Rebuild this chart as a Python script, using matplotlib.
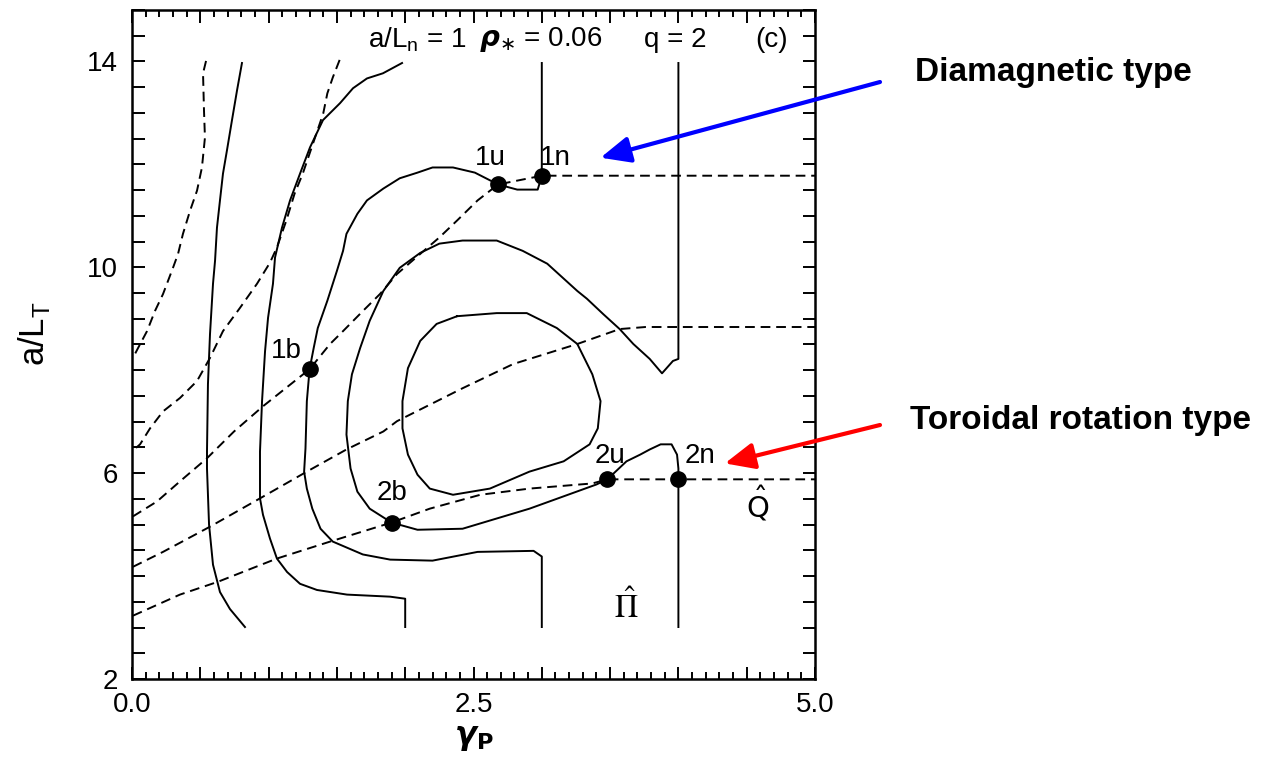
import matplotlib
matplotlib.use("Agg")
import matplotlib.pyplot as plt
from matplotlib.ticker import MultipleLocator, FuncFormatter

plt.rcParams['font.family'] = ['Liberation Sans', 'DejaVu Sans']

# ---------------- data ----------------
# solid contours
solidA_x = [0.805, 0.769, 0.732, 0.695, 0.666, 0.644, 0.622, 0.608, 0.593, 0.571, 0.556, 0.549, 0.549, 0.564, 0.593, 0.644, 0.717, 0.827]
solidA_y = [13.97, 13.44, 12.86, 12.27, 11.82, 11.30, 10.77, 10.13, 9.68, 8.70, 7.73, 6.42, 6.09, 5.00, 4.22, 3.69, 3.36, 3.01]

ln_x = [1.977, 1.837, 1.720, 1.618, 1.523, 1.398, 1.303, 1.230, 1.157, 1.098, 1.047, 1.032, 0.996, 0.974, 0.952, 0.937,
        0.937, 0.959, 1.010, 1.061, 1.135, 1.230, 1.354, 1.574, 1.889, 2.0, 2.0]
ln_y = [13.97, 13.77, 13.67, 13.48, 13.19, 12.86, 12.33, 11.82, 11.30, 10.77, 10.19, 9.68, 9.02, 8.37, 7.40, 6.42,
        5.51, 5.19, 4.73, 4.34, 4.08, 3.85, 3.73, 3.64, 3.60, 3.56, 3.01]

rho_x = [3.00, 3.00, 2.97, 2.82, 2.68, 2.51, 2.35, 2.20, 2.09, 1.96, 1.84, 1.72, 1.65, 1.57, 1.545, 1.50, 1.43, 1.36,
         1.33, 1.30, 1.28, 1.27, 1.26, 1.28, 1.32, 1.38, 1.47, 1.69, 1.89, 2.20, 2.53, 2.94, 3.00, 3.00]
rho_y = [13.97, 11.78, 11.51, 11.51, 11.61, 11.84, 11.94, 11.94, 11.84, 11.73, 11.53, 11.30, 11.04, 10.65, 10.32, 9.93,
         9.35, 8.82, 8.43, 8.02, 7.40, 6.48, 6.03, 5.70, 5.31, 4.92, 4.67, 4.42, 4.32, 4.30, 4.47, 4.49, 4.38, 3.01]

q_x = [4.00, 4.00, 3.96, 3.88, 3.79, 3.67, 3.57, 3.45, 3.33, 3.26, 3.04, 2.86, 2.67, 2.42, 2.25, 2.11, 1.96, 1.84,
       1.74, 1.67, 1.61, 1.58, 1.57, 1.60, 1.65, 1.74, 1.90, 2.09, 2.42, 2.91, 3.40, 3.48, 3.62, 3.72, 3.79, 3.87,
       3.95, 3.99, 4.00, 4.00, 4.00]
q_y = [13.97, 8.22, 8.18, 7.94, 8.22, 8.51, 8.80, 9.09, 9.39, 9.54, 10.07, 10.32, 10.52, 10.52, 10.46, 10.28, 9.99,
       9.54, 8.96, 8.43, 7.92, 7.40, 6.75, 6.09, 5.64, 5.31, 5.04, 4.90, 4.92, 5.31, 5.78, 5.88, 6.23, 6.36, 6.46,
       6.56, 6.56, 6.36, 6.09, 5.88, 3.01]

inner_x = [2.38, 2.67, 2.89, 3.11, 3.26, 3.37, 3.43, 3.41, 3.35, 3.16, 2.91, 2.62, 2.35, 2.18, 2.09, 2.02, 1.98, 1.98,
           2.02, 2.11, 2.23, 2.38]
inner_y = [9.05, 9.11, 9.11, 8.82, 8.51, 7.92, 7.40, 6.87, 6.56, 6.23, 6.03, 5.70, 5.58, 5.70, 5.97, 6.36, 6.87, 7.40,
           8.04, 8.57, 8.90, 9.05]

# dashed contours
dashA_x = [0.542, 0.520, 0.527, 0.534, 0.512, 0.476, 0.425, 0.373, 0.337, 0.300, 0.227, 0.168, 0.110, 0.044, 0.007]
dashA_y = [14.01, 13.77, 13.05, 12.52, 11.94, 11.49, 11.10, 10.65, 10.26, 9.99, 9.48, 9.15, 8.76, 8.43, 8.24]

dashB_x = [1.52, 1.47, 1.43, 1.40, 1.35, 1.30, 1.25, 1.19, 1.13, 1.06, 1.01, 0.915, 0.79, 0.666, 0.571, 0.476, 0.351,
           0.227, 0.132, 0.059, 0.007]
dashB_y = [14.03, 13.69, 13.38, 12.99, 12.60, 12.21, 11.82, 11.43, 10.91, 10.38, 10.09, 9.68, 9.21, 8.76, 8.24, 7.79,
           7.46, 7.20, 6.87, 6.56, 6.44]

dash1_x = [0.007, 0.183, 0.351, 0.549, 0.747, 0.959, 1.30, 1.45, 1.545, 1.69, 1.815, 1.94, 2.11, 2.25, 2.38, 2.53,
           2.68, 3.00, 5.00]
dash1_y = [5.16, 5.45, 5.84, 6.29, 6.81, 7.30, 8.02, 8.51, 8.76, 9.15, 9.48, 9.87, 10.26, 10.58, 10.91, 11.30,
           11.61, 11.78, 11.78]

dashM_x = [0.007, 0.227, 0.571, 0.937, 1.28, 1.57, 1.84, 1.94, 2.42, 2.79, 3.26, 3.57, 3.76, 5.00]
dashM_y = [4.18, 4.47, 4.96, 5.51, 6.03, 6.46, 6.81, 7.01, 7.65, 8.12, 8.51, 8.80, 8.84, 8.84]

dash2_x = [0.007, 0.351, 0.63, 1.06, 1.45, 1.90, 2.18, 2.55, 2.91, 3.37, 3.48, 4.00, 5.00]
dash2_y = [3.23, 3.64, 3.89, 4.34, 4.67, 5.04, 5.31, 5.58, 5.70, 5.80, 5.88, 5.88, 5.88]

# marked points
pt_names = ['1u', '1n', '1b', '2b', '2u', '2n']
pt_x = [2.68, 3.00, 1.30, 1.90, 3.48, 4.00]
pt_y = [11.61, 11.78, 8.02, 5.04, 5.88, 5.88]
pt_label_x = [2.62, 3.10, 1.13, 1.90, 3.50, 4.16]
pt_label_y = [12.12, 12.12, 8.37, 5.62, 6.33, 6.33]

x_ticklabels = {0.0: '0.0', 2.5: '2.5', 5.0: '5.0'}
y_ticklabels = {2.0: '2', 6.0: '6', 10.0: '10', 14.0: '14'}

# ---------------- figure ----------------
fig = plt.figure(figsize=(12.82, 7.57), dpi=100)
ax = fig.add_axes([132 / 1282, 1 - 679 / 757, (815 - 132) / 1282, (679 - 10) / 757])
ax.set_xlim(0, 5)
ax.set_ylim(2, 15)

lw = 1.4
dash = (0, (5, 3))
for xs, ys in [(solidA_x, solidA_y), (ln_x, ln_y), (rho_x, rho_y), (q_x, q_y), (inner_x, inner_y)]:
    ax.plot(xs, ys, color='black', lw=lw, solid_joinstyle='round')
for xs, ys in [(dashA_x, dashA_y), (dashB_x, dashB_y), (dash1_x, dash1_y), (dashM_x, dashM_y), (dash2_x, dash2_y)]:
    ax.plot(xs, ys, color='black', lw=lw, linestyle=dash)

ax.plot(pt_x, pt_y, 'o', color='black', ms=11, zorder=5)
for name, lx, ly in zip(pt_names, pt_label_x, pt_label_y):
    ax.text(lx, ly, name, fontsize=20, ha='center', va='center')

# top labels
ax.text(2.09, 14.42, r'a/L$_\mathregular{n}$ = 1', fontsize=20, ha='center', va='center')
ax.text(2.99, 14.42, r'$\boldsymbol{\rho}_{\ast}$ = 0.06', fontsize=20, ha='center', va='center')
ax.text(3.98, 14.42, 'q = 2', fontsize=20, ha='center', va='center')
ax.text(4.68, 14.42, '(c)', fontsize=20, ha='center', va='center')
ax.text(4.58, 5.40, r'$\hat{\mathrm{Q}}$', fontsize=21, ha='center', va='center')
ax.text(3.62, 3.40, r'$\hat{\Pi}$', fontsize=23, ha='center', va='center', math_fontfamily='stix')

# ticks
ax.xaxis.set_major_locator(MultipleLocator(0.5))
ax.xaxis.set_minor_locator(MultipleLocator(0.1))
ax.yaxis.set_major_locator(MultipleLocator(0.5))
ax.xaxis.set_major_formatter(FuncFormatter(lambda v, p: x_ticklabels.get(round(v, 2), '')))
ax.yaxis.set_major_formatter(FuncFormatter(lambda v, p: y_ticklabels.get(round(v, 2), '')))
ax.tick_params(which='both', direction='in', top=True, right=True, width=1.4, labelsize=20)
ax.tick_params(which='major', length=9)
ax.tick_params(which='minor', length=5)
ax.tick_params(axis='x', pad=9)
ax.tick_params(axis='y', pad=10)
for s in ax.spines.values():
    s.set_linewidth(1.8)

ax.set_ylabel(r'a/L$_\mathregular{T}$', fontsize=25)
ax.yaxis.set_label_coords(-0.117, 0.517)
ax.set_xlabel(r'$\boldsymbol{\gamma}_{\mathbf{P}}$', fontsize=23)
ax.xaxis.set_label_coords(0.50, -0.066)

# annotations outside
fig.text(915 / 1282, 1 - 73 / 757, 'Diamagnetic type', fontsize=24, fontweight='bold', ha='left', va='center')
fig.text(910 / 1282, 1 - 420 / 757, 'Toroidal rotation type', fontsize=24, fontweight='bold', ha='left', va='center')
ax.annotate('', xy=(3.43, 12.13), xycoords='data', xytext=(880 / 1282, 1 - 82 / 757), textcoords='figure fraction',
            arrowprops=dict(arrowstyle='-|>,head_length=0.9,head_width=0.4', color='blue', lw=3,
                            shrinkA=0, shrinkB=0, mutation_scale=20), annotation_clip=False)
ax.annotate('', xy=(4.34, 6.19), xycoords='data', xytext=(880 / 1282, 1 - 425 / 757), textcoords='figure fraction',
            arrowprops=dict(arrowstyle='-|>,head_length=0.9,head_width=0.4', color='red', lw=3,
                            shrinkA=0, shrinkB=0, mutation_scale=20), annotation_clip=False)

fig.savefig('out.png', dpi=100)
